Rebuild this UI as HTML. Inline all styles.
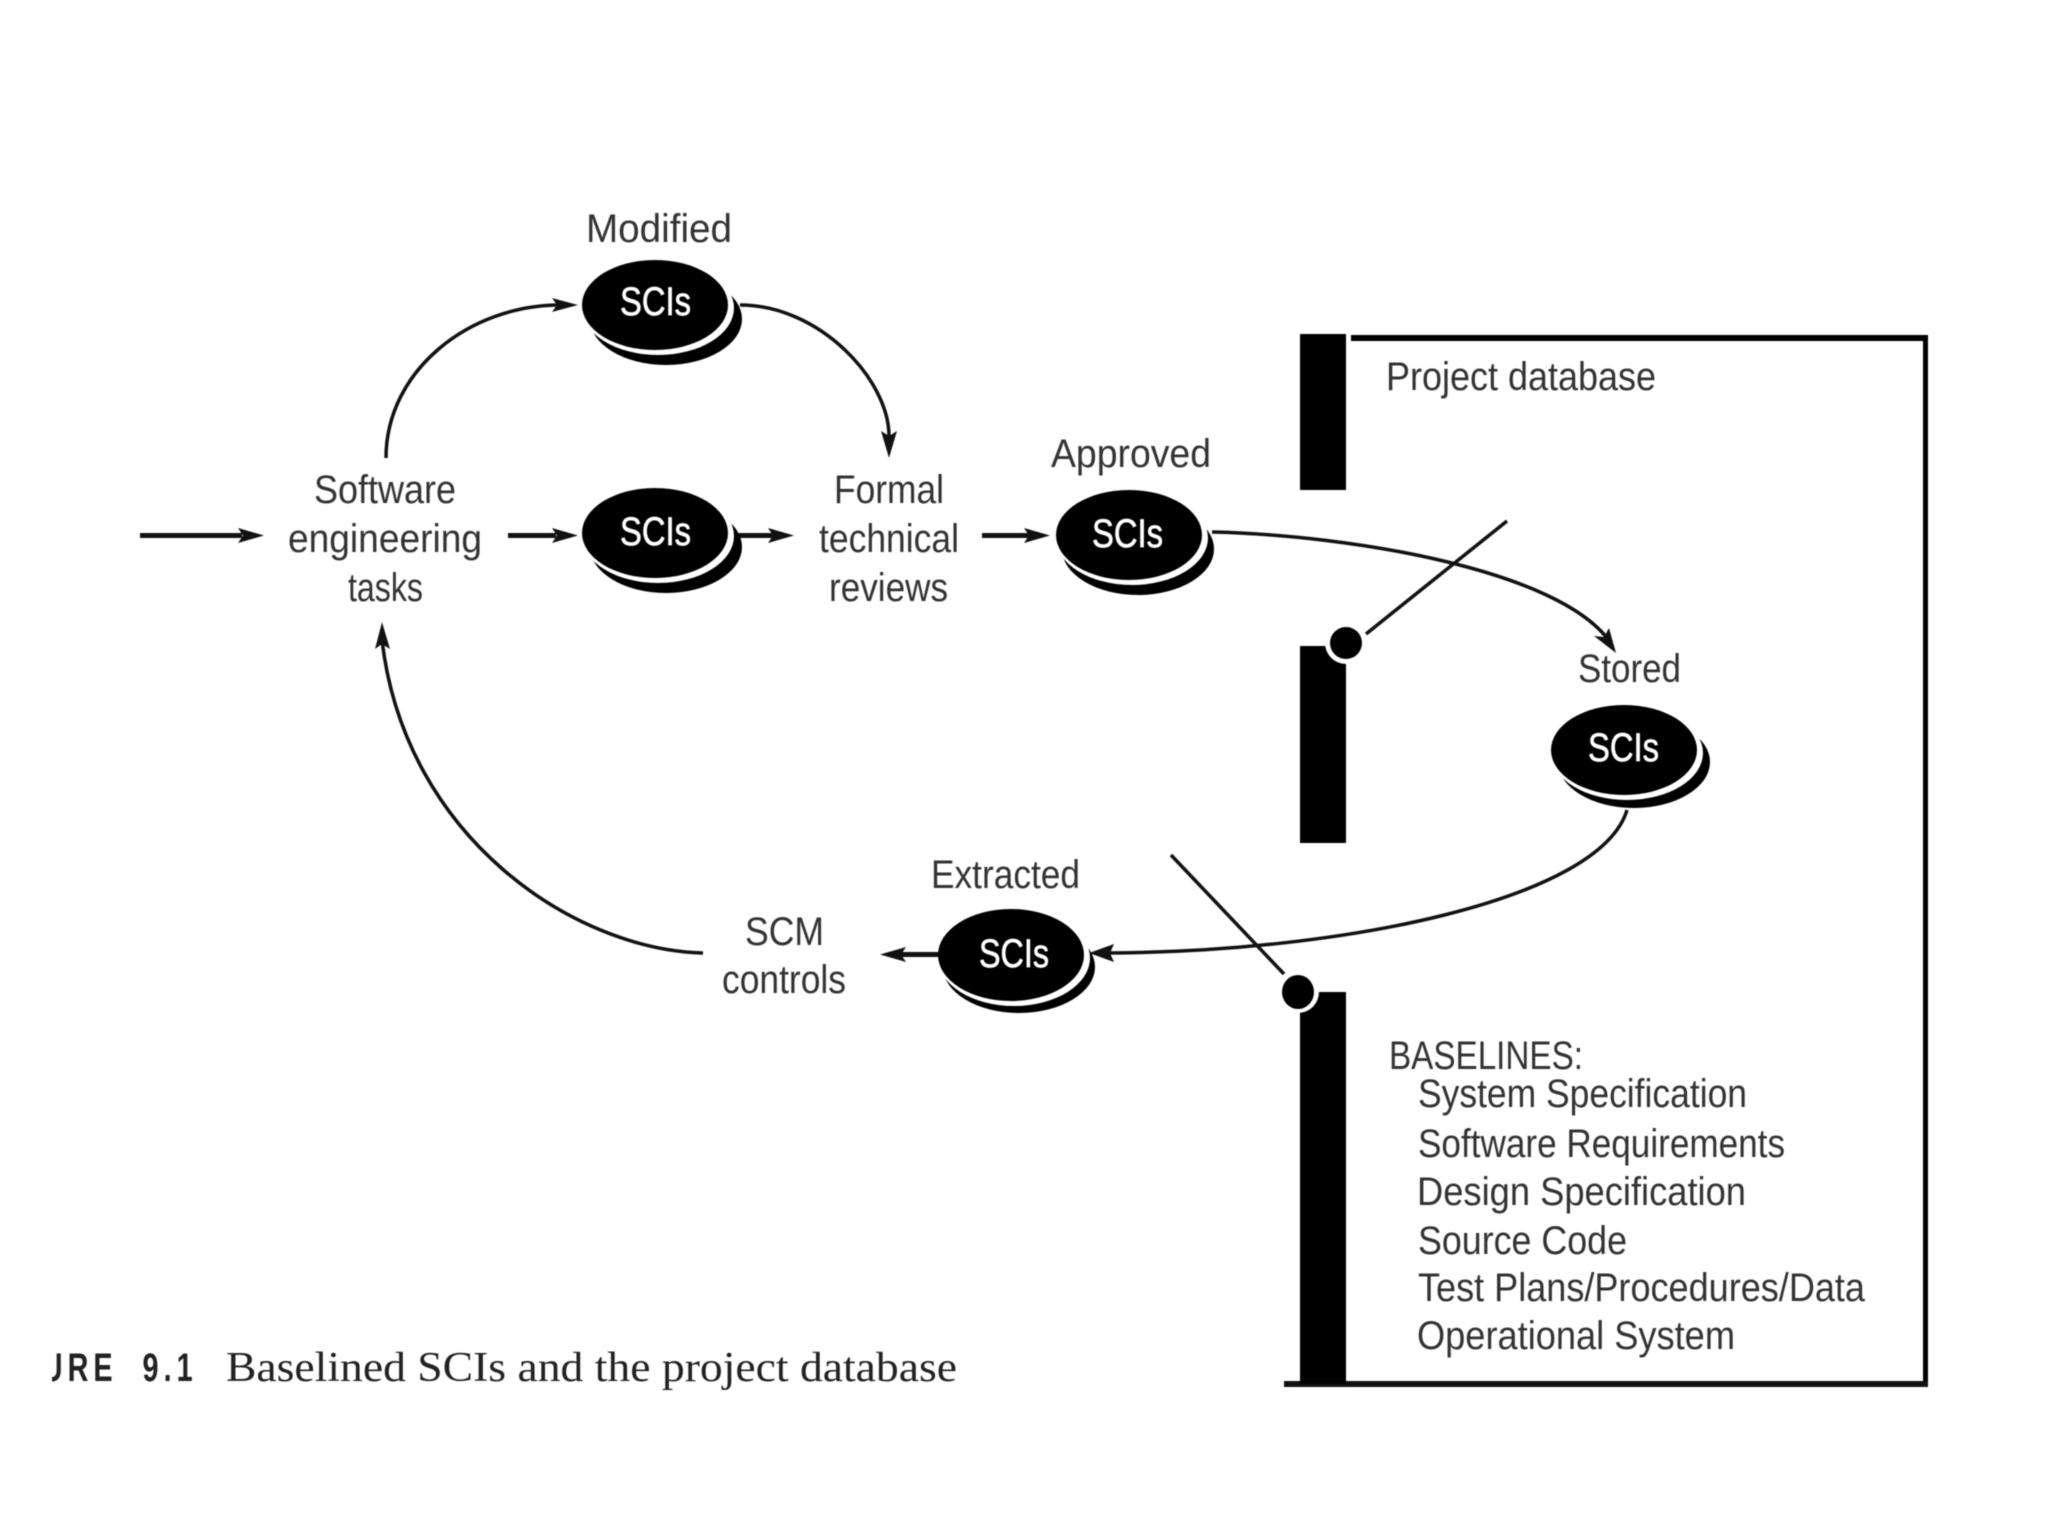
<!DOCTYPE html>
<html>
<head>
<meta charset="utf-8">
<style>
html,body{margin:0;padding:0;background:#fff;width:2048px;height:1536px;overflow:hidden}
svg{display:block}
#d{filter:blur(.6px)}
text{font-family:"Liberation Sans",sans-serif;font-size:40px;fill:#333}
.s{font-size:40px;fill:#fff;stroke:#fff;stroke-width:.7px}
</style>
</head>
<body>
<svg id="d" width="2048" height="1536" viewBox="0 0 2048 1536" xmlns="http://www.w3.org/2000/svg">
<rect width="2048" height="1536" fill="#fff"/>

<!-- database frame -->
<rect x="1351" y="335" width="577" height="6" fill="#000"/>
<rect x="1923" y="335" width="5" height="1052" fill="#000"/>
<rect x="1284" y="1381" width="644" height="6" fill="#111"/>
<rect x="1300" y="334" width="46" height="156" fill="#000"/>
<rect x="1300" y="646" width="46" height="197" fill="#000"/>
<rect x="1300" y="992" width="46" height="392" fill="#000"/>

<!-- gate dots and lines -->
<ellipse cx="1346" cy="643" rx="21" ry="21" fill="#fff"/>
<ellipse cx="1346" cy="643" rx="16" ry="16" fill="#000"/>
<line x1="1366" y1="634" x2="1507" y2="521" stroke="#111" stroke-width="3.5"/>
<ellipse cx="1298" cy="992" rx="21" ry="21" fill="#fff"/>
<ellipse cx="1298" cy="992" rx="16" ry="17" fill="#000"/>
<line x1="1284" y1="974" x2="1171" y2="855" stroke="#111" stroke-width="3.5"/>

<!-- straight arrows -->
<g fill="#111" stroke="none">
<rect x="140" y="533" width="102" height="5"/><polygon points="264,535.500 238,528 243,535.500 238,543"/>
<rect x="508" y="533" width="48" height="5"/><polygon points="578,535.500 552,528 557,535.500 552,543"/>
<rect x="738" y="533" width="36" height="5"/><polygon points="794,535.500 768,528 773,535.500 768,543"/>
<rect x="982" y="533" width="48" height="5"/><polygon points="1050,535.500 1024,528 1029,535.500 1024,543"/>
<rect x="898" y="952" width="46" height="5"/><polygon points="880,954.500 906,947 901,954.500 906,962"/>
</g>

<!-- curves -->
<g fill="none" stroke="#111" stroke-width="3.500">
<path d="M386,458 C386,370 470,305 560,305"/>
<path d="M740,305 C820,305 889,380 889,436"/>
<path d="M1212,532 C1350,535 1560,570 1610,642"/>
<path d="M1627,810 C1600,900 1340,953 1100,953"/>
<path d="M703,953 C575,950 405,838 382,640"/>
</g>
<g fill="#111" stroke="none">
<polygon points="578,305 552,298 557,305 552,312"/>
<polygon points="889,458 881,431 889,436 897,431"/>
<polygon points="1616,653 1594,636 1604,637 1609,628"/>
<polygon points="1089,953 1114,944 1110,953 1114,962"/>
<polygon points="382,622 375,649 382,644 390,649"/>
</g>

<!-- SCI discs -->
<g>
<ellipse cx="666" cy="319" rx="76" ry="46" fill="#000"/><ellipse cx="658" cy="308" rx="76" ry="47" fill="#fff"/><ellipse cx="655" cy="305" rx="73" ry="45" fill="#000"/>
<ellipse cx="666" cy="547" rx="76" ry="46" fill="#000"/><ellipse cx="658" cy="536" rx="76" ry="47" fill="#fff"/><ellipse cx="655" cy="533" rx="73" ry="45" fill="#000"/>
<ellipse cx="1138" cy="549" rx="76" ry="46" fill="#000"/><ellipse cx="1132" cy="538" rx="76" ry="47" fill="#fff"/><ellipse cx="1129" cy="535" rx="73" ry="45" fill="#000"/>
<ellipse cx="1634" cy="762" rx="76" ry="46" fill="#000"/><ellipse cx="1627" cy="753" rx="76" ry="47" fill="#fff"/><ellipse cx="1624" cy="750" rx="73" ry="45" fill="#000"/>
<ellipse cx="1019" cy="967" rx="76" ry="46" fill="#000"/><ellipse cx="1014" cy="958" rx="76" ry="48" fill="#fff"/><ellipse cx="1011" cy="955" rx="73" ry="46" fill="#000"/>
</g>
<text class="s" x="620" y="315" textLength="71" lengthAdjust="spacingAndGlyphs">SCIs</text>
<text class="s" x="620" y="545" textLength="71" lengthAdjust="spacingAndGlyphs">SCIs</text>
<text class="s" x="1092" y="547" textLength="71" lengthAdjust="spacingAndGlyphs">SCIs</text>
<text class="s" x="1588" y="761" textLength="71" lengthAdjust="spacingAndGlyphs">SCIs</text>
<text class="s" x="979" y="967" textLength="70" lengthAdjust="spacingAndGlyphs">SCIs</text>

<!-- labels -->
<text x="586" y="242" textLength="146" lengthAdjust="spacingAndGlyphs">Modified</text>
<text x="314" y="503" textLength="142" lengthAdjust="spacingAndGlyphs">Software</text>
<text x="288" y="552" textLength="194" lengthAdjust="spacingAndGlyphs">engineering</text>
<text x="348" y="601" textLength="75" lengthAdjust="spacingAndGlyphs">tasks</text>
<text x="834" y="503" textLength="110" lengthAdjust="spacingAndGlyphs">Formal</text>
<text x="819" y="552" textLength="140" lengthAdjust="spacingAndGlyphs">technical</text>
<text x="829" y="601" textLength="119" lengthAdjust="spacingAndGlyphs">reviews</text>
<text x="1051" y="467" textLength="160" lengthAdjust="spacingAndGlyphs">Approved</text>
<text x="1386" y="390" textLength="270" lengthAdjust="spacingAndGlyphs">Project database</text>
<text x="1578" y="682" textLength="103" lengthAdjust="spacingAndGlyphs">Stored</text>
<text x="931" y="888" textLength="149" lengthAdjust="spacingAndGlyphs">Extracted</text>
<text x="745" y="945" textLength="79" lengthAdjust="spacingAndGlyphs">SCM</text>
<text x="722" y="993" textLength="124" lengthAdjust="spacingAndGlyphs">controls</text>

<text x="1389" y="1069" textLength="194" lengthAdjust="spacingAndGlyphs">BASELINES:</text>
<text x="1418" y="1107" textLength="329" lengthAdjust="spacingAndGlyphs">System Specification</text>
<text x="1418" y="1157" textLength="367" lengthAdjust="spacingAndGlyphs">Software Requirements</text>
<text x="1417" y="1205" textLength="329" lengthAdjust="spacingAndGlyphs">Design Specification</text>
<text x="1418" y="1254" textLength="209" lengthAdjust="spacingAndGlyphs">Source Code</text>
<text x="1418" y="1301" textLength="447" lengthAdjust="spacingAndGlyphs">Test Plans/Procedures/Data</text>
<text x="1417" y="1349" textLength="318" lengthAdjust="spacingAndGlyphs">Operational System</text>

<!-- caption -->
<svg x="52" y="1330" width="150" height="70" viewBox="52 1330 150 70">
<g transform="translate(0 1381) scale(.72 1)">
<text x="58" y="0" style="font-weight:bold;font-size:40px;letter-spacing:7px;fill:#222">URE</text>
<text x="198" y="0" style="font-weight:bold;font-size:40px;letter-spacing:7px;fill:#222">9.1</text>
</g>
</svg>
<text x="226" y="1381" textLength="731" lengthAdjust="spacingAndGlyphs" style="font-family:'Liberation Serif',serif;font-size:42px;fill:#222">Baselined SCIs and the project database</text>
</svg>
</body>
</html>
